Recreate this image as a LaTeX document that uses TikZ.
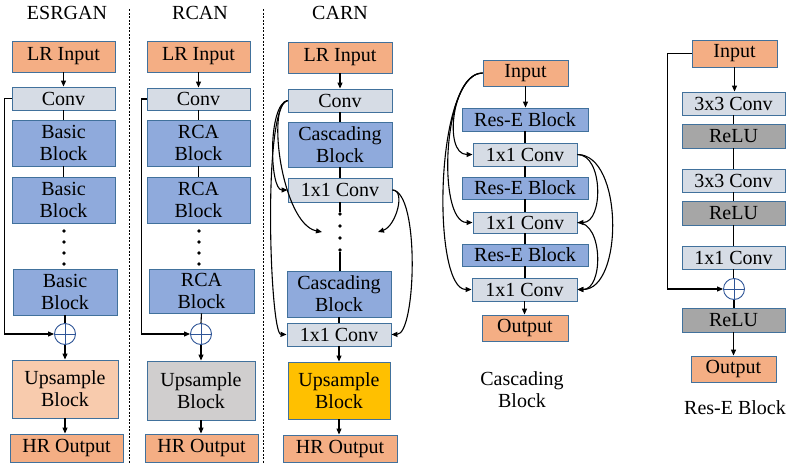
\documentclass[tikz,border=0pt]{standalone}
\usepackage{fontspec}
\setmainfont{Liberation Serif}
\usetikzlibrary{arrows.meta}

\definecolor{bordc}{HTML}{41719C}
\definecolor{orngc}{HTML}{F4AE84}
\definecolor{peachc}{HTML}{F8CBAD}
\definecolor{convc}{HTML}{D6DCE5}
\definecolor{bluec}{HTML}{8FAADC}
\definecolor{grayupc}{HTML}{D0CECE}
\definecolor{reluc}{HTML}{A6A6A6}
\definecolor{yellowc}{HTML}{FFC000}
\definecolor{plusc}{HTML}{2F5597}

% block given by its corners: style, x1, y1, x2, y2, name, text
\newcommand\blk[7]{%
  \node[#1, minimum width={#4-#2}, minimum height={#5-#3}] (#6)
    at ({(#2+#4)/2},{(#3+#5)/2}) {#7};}

\begin{document}
\begin{tikzpicture}[x=1pt,y=-1pt,
  txt/.style={font=\fontsize{20}{22}\selectfont, text=black, align=center},
  box/.style={txt, draw=bordc, line width=0.9pt, inner sep=0pt},
  orng/.style={box, fill=orngc},
  peach/.style={box, fill=peachc},
  convbox/.style={box, fill=convc},
  bluebox/.style={box, fill=bluec},
  grayup/.style={box, fill=grayupc},
  relubox/.style={box, fill=reluc},
  yellowbox/.style={box, fill=yellowc},
  link/.style={line width=1.1pt, black},
  arr/.style={link, -{Triangle[length=6pt,width=5pt]}},
  smalldot/.style={circle, fill=black, inner sep=0pt, minimum size=3.8pt},
  sepline/.style={line width=1pt, dash pattern=on 2pt off 1.5pt},
  plusnode/.style={circle, draw=plusc, fill=white, line width=0.9pt,
    minimum size=21pt, inner sep=0pt,
    path picture={\draw[plusc, line width=0.9pt]
      (path picture bounding box.north) -- (path picture bounding box.south)
      (path picture bounding box.west) -- (path picture bounding box.east);}}
]
\useasboundingbox (0,0) rectangle (786,463);

% column separators
\draw[sepline] (129,9) -- (129,463);
\draw[sepline] (263,9) -- (263,463);

% ---------------- ESRGAN ----------------
\node[txt, anchor=base] (eT) at (67,19) {ESRGAN};
\blk{orng}{12}{41}{115}{72}{eIn}{LR Input}
\blk{convbox}{12}{87}{115}{110}{eConv}{Conv}
\blk{bluebox}{12}{120}{115}{166}{eB1}{Basic\\Block}
\blk{bluebox}{12}{177}{115}{223}{eB2}{Basic\\Block}
\node[smalldot] (eD1) at (64,231) {};
\node[smalldot] (eD2) at (64,242) {};
\node[smalldot] (eD3) at (64,253) {};
\node[smalldot] (eD4) at (64,264) {};
\blk{bluebox}{13}{269}{117}{315}{eB3}{Basic\\Block}
\node[plusnode] (ePlus) at (65,334) {};
\blk{peach}{12}{360}{118}{418}{eUp}{Upsample\\Block}
\blk{orng}{10}{434}{123}{462}{eOut}{HR Output}

\draw[arr] (eIn.south) -- (eIn.south |- eConv.north);
\draw[link] (eConv.south) -- (eConv.south |- eB1.north);
\draw[link] (eB1.south) -- (eB1.south |- eB2.north);
\draw[link] (eB3.south) -- (ePlus.north);
\draw[arr] (ePlus.south) -- (ePlus.south |- eUp.north);
\draw[arr] (eUp.south) -- (eUp.south |- eOut.north);
\draw[arr] (eConv.west) -- ++(-7,0) |- (ePlus.west);

% ---------------- RCAN ----------------
\node[txt, anchor=base] (rT) at (200,19) {RCAN};
\blk{orng}{147}{41}{250}{72}{rIn}{LR Input}
\blk{convbox}{147}{88}{250}{110}{rConv}{Conv}
\blk{bluebox}{147}{120}{250}{166}{rB1}{RCA\\Block}
\blk{bluebox}{147}{177}{250}{223}{rB2}{RCA\\Block}
\node[smalldot] (rD1) at (199,231) {};
\node[smalldot] (rD2) at (199,242) {};
\node[smalldot] (rD3) at (199,253) {};
\node[smalldot] (rD4) at (199,264) {};
\blk{bluebox}{149}{269}{254}{313}{rB3}{RCA\\Block}
\node[plusnode] (rPlus) at (201,334) {};
\blk{grayup}{147}{361}{255}{420}{rUp}{Upsample\\Block}
\blk{orng}{145}{434}{258}{462}{rOut}{HR Output}

\draw[arr] (rIn.south) -- (rIn.south |- rConv.north);
\draw[link] (rConv.south) -- (rConv.south |- rB1.north);
\draw[link] (rB1.south) -- (rB1.south |- rB2.north);
\draw[link] (rB3.south) -- (rPlus.north);
\draw[arr] (rPlus.south) -- (rPlus.south |- rUp.north);
\draw[arr] (rUp.south) -- (rUp.south |- rOut.north);
\draw[arr] (rConv.west) -- ++(-5,0) |- (rPlus.west);

% ---------------- CARN ----------------
\node[txt, anchor=base] (cT) at (340,19) {CARN};
\blk{orng}{288}{42}{392}{73}{cIn}{LR Input}
\blk{convbox}{288}{89}{392}{112}{cConv}{Conv}
\blk{bluebox}{288}{122}{392}{167}{cB1}{Cascading\\Block}
\blk{convbox}{288}{178}{392}{202}{cC1}{1x1 Conv}
\node[smalldot] (cD1) at (340,214) {};
\node[smalldot] (cD2) at (340,226) {};
\node[smalldot] (cD3) at (340,238) {};
\node[smalldot] (cD4) at (340,250) {};
\blk{bluebox}{287}{271}{391}{317}{cB2}{Cascading\\Block}
\blk{convbox}{287}{323}{391}{346}{cC2}{1x1 Conv}
\blk{yellowbox}{288}{362}{390}{419}{cUp}{Upsample\\Block}
\blk{orng}{283}{435}{397}{462}{cOut}{HR Output}

\coordinate (cL) at (322,232);
\coordinate (cR) at (378,232);

\draw[arr] (cIn.south) -- (cIn.south |- cConv.north);
\draw[link] (cConv.south) -- (cConv.south |- cB1.north);
\draw[link] (cB1.south) -- (cB1.south |- cC1.north);
\draw[link] (cC1.south) -- (cD1);
\draw[link] (cD4) -- (cD4 |- cB2.north);
\draw[link] (cB2.south) -- (cB2.south |- cC2.north);
\draw[arr] (cC2.south) -- (cC2.south |- cUp.north);
\draw[arr] (cUp.south) -- (cUp.south |- cOut.north);

% dense skip links
\draw[arr] (cConv.west) .. controls +(-20,4) and +(-18,0) .. (cC1.west);
\draw[arr] (cConv.west) .. controls (266,104) and (282,224) .. (cL);
\draw[arr] (cConv.west) .. controls (262,106) and (270,334) .. (cC2.west);
\draw[arr] (cC1.east) .. controls (406,190) and (396,226) .. (cR);
\draw[arr] (cC1.east) .. controls (420,192) and (416,334) .. (cC2.east);

% ---------------- Cascading Block ----------------
\blk{orng}{483}{60}{568}{86}{kIn}{Input}
\blk{bluebox}{462}{108}{588}{131}{kR1}{Res-E Block}
\blk{convbox}{473}{143}{577}{166}{kC1}{1x1 Conv}
\blk{bluebox}{462}{177}{588}{199}{kR2}{Res-E Block}
\blk{convbox}{473}{212}{577}{233}{kC2}{1x1 Conv}
\blk{bluebox}{462}{244}{588}{266}{kR3}{Res-E Block}
\blk{convbox}{472}{278}{577}{301}{kC3}{1x1 Conv}
\blk{orng}{482}{315}{568}{341}{kOut}{Output}
\node[txt] (kT) at (522,390) {Cascading\\Block};

\draw[arr] (kIn.south) -- (kIn.south |- kR1.north);
\draw[link] (kR1.south) -- (kR1.south |- kC1.north);
\draw[link] (kC1.south) -- (kC1.south |- kR2.north);
\draw[link] (kR2.south) -- (kR2.south |- kC2.north);
\draw[link] (kC2.south) -- (kC2.south |- kR3.north);
\draw[link] (kR3.south) -- (kR3.south |- kC3.north);
\draw[arr] (kC3.south) -- (kC3.south |- kOut.north);

\draw[arr] (kIn.west) .. controls +(-30,0) and +(-30,0) .. (kC1.west);
\draw[arr] (kIn.west) .. controls +(-40,0) and +(-36,0) .. (kC2.west);
\draw[arr] (kIn.west) .. controls +(-48,0) and +(-40,0) .. (kC3.west);
\draw[arr] (kC1.east) .. controls +(26,0) and +(26,0) .. (kC2.east);
\draw[arr] (kC1.east) .. controls +(46,0) and +(46,0) .. (kC3.east);
\draw[arr] (kC2.east) .. controls +(26,0) and +(26,0) .. (kC3.east);

% ---------------- Res-E Block ----------------
\blk{orng}{692}{40}{777}{67}{sIn}{Input}
\blk{convbox}{682}{92}{785}{115}{sC1}{3x3 Conv}
\blk{relubox}{682}{124}{785}{148}{sR1}{ReLU}
\blk{convbox}{682}{169}{785}{192}{sC2}{3x3 Conv}
\blk{relubox}{682}{201}{785}{225}{sR2}{ReLU}
\blk{convbox}{682}{246}{785}{269}{sC3}{1x1 Conv}
\node[plusnode] (sPlus) at (734,289) {};
\blk{relubox}{682}{308}{785}{332}{sR3}{ReLU}
\blk{orng}{691}{356}{776}{382}{sOut}{Output}
\node[txt] (sT) at (735,408) {Res-E Block};

\draw[arr] (sIn.south) -- (sIn.south |- sC1.north);
\draw[link] (sC1.south) -- (sC1.south |- sR1.north);
\draw[link] (sR1.south) -- (sR1.south |- sC2.north);
\draw[link] (sC2.south) -- (sC2.south |- sR2.north);
\draw[link] (sR2.south) -- (sR2.south |- sC3.north);
\draw[link] (sC3.south |- sPlus.north) -- (sC3.south);
\draw[link] (sPlus.south) -- (sPlus.south |- sR3.north);
\draw[arr] (sR3.south) -- (sR3.south |- sOut.north);
\draw[arr] (sIn.west) -- ++(-24,0) |- (sPlus.west);
\end{tikzpicture}
\end{document}
